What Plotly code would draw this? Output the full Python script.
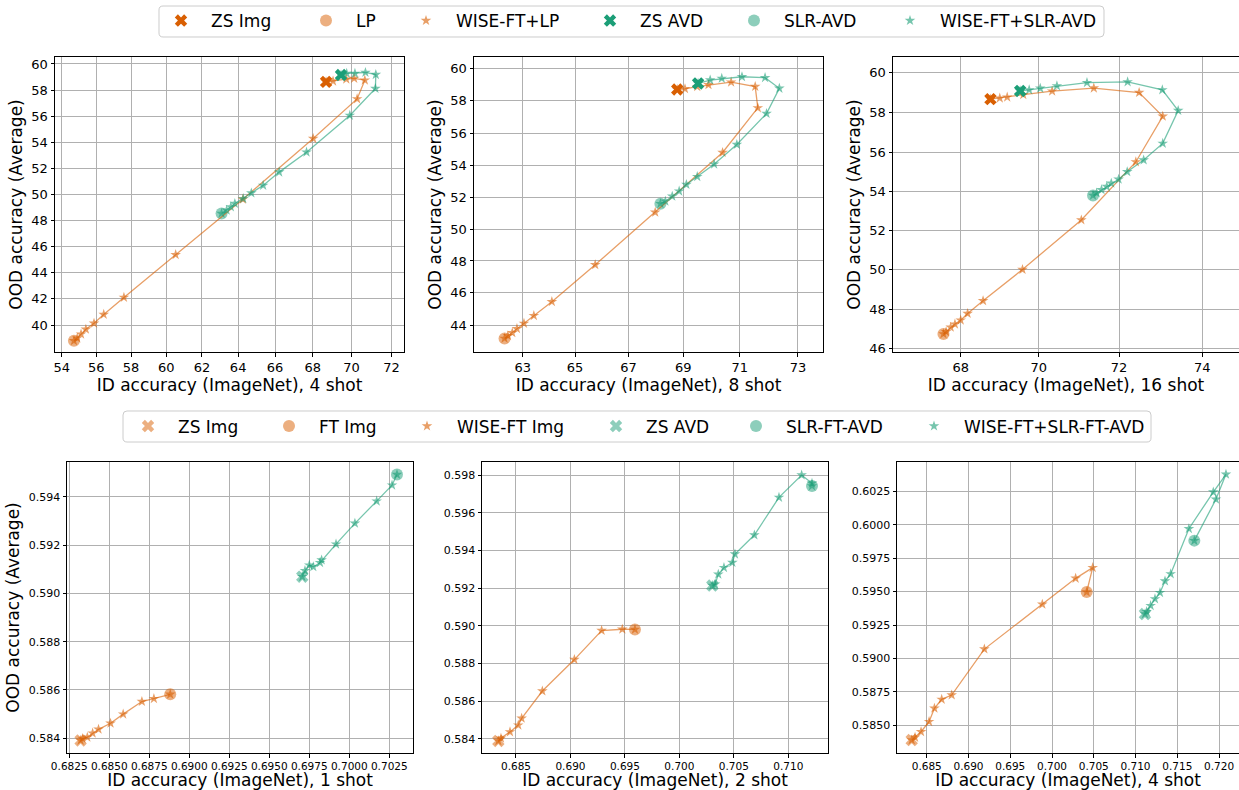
import plotly.graph_objects as go
from statistics import NormalDist

ND = NormalDist()


def probit(v):
    return ND.inv_cdf(v / 100.0)


ORANGE = (217, 95, 2)
GREEN = (27, 158, 119)


def rgba(c, a=1.0):
    return "rgba(%d,%d,%d,%.2f)" % (c[0], c[1], c[2], a)


FONT = "DejaVu Sans"
W, H = 1239, 790

# ---------------- Top row data (accuracy in %) ----------------
top_shots = ["4 shot", "8 shot", "16 shot"]

p1_zs_img_x = [68.69]
p1_zs_img_y = [58.65]
p1_lp_x = [54.71]
p1_lp_y = [38.84]
p1_wise_lp_x = [54.71, 54.90, 55.12, 55.40, 55.87, 56.43, 57.59, 60.53, 64.26, 68.02, 70.28, 70.67, 70.13, 69.73, 69.05, 68.69]
p1_wise_lp_y = [38.84, 39.04, 39.33, 39.70, 40.15, 40.81, 42.10, 45.36, 49.64, 54.33, 57.36, 58.78, 58.91, 58.86, 58.71, 58.65]
p1_zs_avd_x = [69.46]
p1_zs_avd_y = [59.17]
p1_slr_x = [63.09]
p1_slr_y = [48.54]
p1_wise_slr_x = [63.09, 63.37, 63.60, 63.82, 64.28, 64.72, 65.36, 66.22, 67.67, 69.91, 71.20, 71.22, 70.70, 70.17, 69.75, 69.46]
p1_wise_slr_y = [48.54, 48.79, 49.05, 49.31, 49.69, 50.12, 50.71, 51.74, 53.28, 56.10, 58.15, 59.20, 59.36, 59.29, 59.29, 59.17]

p2_zs_img_x = [68.78]
p2_zs_img_y = [58.70]
p2_lp_x = [62.30]
p2_lp_y = [43.17]
p2_wise_lp_x = [62.30, 62.43, 62.60, 62.78, 63.05, 63.43, 64.12, 65.76, 67.98, 70.40, 71.63, 71.54, 70.70, 69.90, 69.50, 69.06, 68.78]
p2_wise_lp_y = [43.17, 43.33, 43.52, 43.77, 44.10, 44.58, 45.45, 47.76, 51.06, 54.80, 57.57, 58.88, 59.15, 58.99, 58.87, 58.74, 58.70]
p2_zs_avd_x = [69.53]
p2_zs_avd_y = [59.07]
p2_slr_x = [68.17]
p2_slr_y = [51.60]
p2_wise_slr_x = [68.17, 68.35, 68.60, 68.85, 69.11, 69.50, 70.10, 70.90, 71.93, 72.37, 71.88, 71.08, 70.37, 69.96, 69.53]
p2_wise_slr_y = [51.60, 51.75, 52.06, 52.38, 52.80, 53.29, 54.07, 55.30, 57.22, 58.77, 59.42, 59.48, 59.38, 59.28, 59.07]

p3_zs_img_x = [68.77]
p3_zs_img_y = [58.66]
p3_lp_x = [67.55]
p3_lp_y = [46.73]
p3_wise_lp_x = [67.55, 67.62, 67.74, 67.85, 68.00, 68.18, 68.58, 69.59, 71.07, 72.41, 73.06, 72.49, 71.38, 70.34, 69.61, 69.20, 69.01, 68.77]
p3_wise_lp_y = [46.73, 46.84, 47.07, 47.23, 47.43, 47.77, 48.42, 50.02, 52.55, 55.50, 57.80, 58.99, 59.21, 59.06, 58.88, 58.76, 58.71, 58.66]
p3_zs_avd_x = [69.53]
p3_zs_avd_y = [59.07]
p3_slr_x = [71.36]
p3_slr_y = [53.80]
p3_wise_slr_x = [71.36, 71.45, 71.57, 71.70, 71.81, 71.99, 72.20, 72.60, 73.06, 73.43, 73.05, 72.21, 71.21, 70.46, 70.04, 69.76, 69.53]
p3_wise_slr_y = [53.80, 53.92, 54.09, 54.25, 54.42, 54.62, 55.00, 55.60, 56.44, 58.09, 59.12, 59.52, 59.48, 59.32, 59.20, 59.12, 59.07]

top_xticks = [[54, 56, 58, 60, 62, 64, 66, 68, 70, 72], [63, 65, 67, 69, 71, 73], [68, 70, 72, 74]]
top_yticks = [[40, 42, 44, 46, 48, 50, 52, 54, 56, 58, 60],
              [44, 46, 48, 50, 52, 54, 56, 58, 60],
              [46, 48, 50, 52, 54, 56, 58, 60]]
top_xrange = [[53.61, 72.61], [61.11, 73.84], [66.22, 74.86]]
top_yrange = [[38.01, 60.52], [42.33, 60.68], [45.81, 60.75]]

# ---------------- Bottom row data (accuracy as fraction) ----------------
bottom_shots = ["1 shot", "2 shot", "4 shot"]

p4_zs_img_x = [0.68321]
p4_zs_img_y = [0.58391]
p4_ft_img_x = [0.68881]
p4_ft_img_y = [0.58582]
p4_wise_img_x = [0.68881, 0.68779, 0.68704, 0.68587, 0.68508, 0.68433, 0.68396, 0.68363, 0.68333, 0.68321]
p4_wise_img_y = [0.58582, 0.58564, 0.58552, 0.58500, 0.58462, 0.58437, 0.58421, 0.58404, 0.58399, 0.58391]
p4_zs_avd_x = [0.69706]
p4_zs_avd_y = [0.59069]
p4_slr_x = [0.70298]
p4_slr_y = [0.59492]
p4_wise_slr_x = [0.70298, 0.70267, 0.70171, 0.70035, 0.69917, 0.69827, 0.69817, 0.69775, 0.69750, 0.69723, 0.69706]
p4_wise_slr_y = [0.59492, 0.59448, 0.59382, 0.59290, 0.59204, 0.59138, 0.59127, 0.59110, 0.59117, 0.59094, 0.59069]

p5_zs_img_x = [0.68338]
p5_zs_img_y = [0.58388]
p5_ft_img_x = [0.69592]
p5_ft_img_y = [0.58980]
p5_wise_img_x = [0.69592, 0.69476, 0.69286, 0.69036, 0.68742, 0.68552, 0.68521, 0.68445, 0.68362, 0.68338]
p5_wise_img_y = [0.58980, 0.58981, 0.58974, 0.58820, 0.58653, 0.58508, 0.58472, 0.58436, 0.58402, 0.58388]
p5_zs_avd_x = [0.70302]
p5_zs_avd_y = [0.59213]
p5_slr_x = [0.71217]
p5_slr_y = [0.59742]
p5_wise_slr_x = [0.71217, 0.71217, 0.71122, 0.70914, 0.70688, 0.70510, 0.70486, 0.70409, 0.70357, 0.70327, 0.70302]
p5_wise_slr_y = [0.59742, 0.59756, 0.59800, 0.59681, 0.59481, 0.59380, 0.59335, 0.59308, 0.59273, 0.59220, 0.59213]

p6_zs_img_x = [0.68320]
p6_zs_img_y = [0.58390]
p6_ft_img_x = [0.70415]
p6_ft_img_y = [0.59497]
p6_wise_img_x = [0.70415, 0.70487, 0.70283, 0.69884, 0.69190, 0.68799, 0.68679, 0.68592, 0.68528, 0.68432, 0.68360, 0.68320]
p6_wise_img_y = [0.59497, 0.59679, 0.59599, 0.59405, 0.59070, 0.58726, 0.58694, 0.58627, 0.58527, 0.58452, 0.58410, 0.58390]
p6_zs_avd_x = [0.71113]
p6_zs_avd_y = [0.59332]
p6_slr_x = [0.71704]
p6_slr_y = [0.59881]
p6_wise_slr_x = [0.71704, 0.71963, 0.72083, 0.71931, 0.71639, 0.71421, 0.71353, 0.71293, 0.71233, 0.71181, 0.71133, 0.71113]
p6_wise_slr_y = [0.59881, 0.60190, 0.60377, 0.60244, 0.59970, 0.59632, 0.59579, 0.59492, 0.59445, 0.59395, 0.59350, 0.59332]

bottom_xrange = [[0.68236, 0.70398], [0.68188, 0.71364], [0.68144, 0.72239]]
bottom_yrange = [[0.58339, 0.59544], [0.58324, 0.59869], [0.58293, 0.60469]]
bottom_xtick = [(0.6825, 0.0025, ".4f"), (0.685, 0.005, ".3f"), (0.685, 0.005, ".3f")]
bottom_ytick = [(0.584, 0.002, ".3f"), (0.584, 0.002, ".3f"), (0.585, 0.0025, ".4f")]

top_legend_names = ["ZS Img", "LP", "WISE-FT+LP", "ZS AVD", "SLR-AVD", "WISE-FT+SLR-AVD"]
bottom_legend_names = ["ZS Img", "FT Img", "WISE-FT Img", "ZS AVD", "SLR-FT-AVD", "WISE-FT+SLR-FT-AVD"]

# ---------------- Layout geometry (pixels) ----------------
top_x_px = [(55, 404), (474, 823), (893, 1239)]
top_y_px = (57, 352)
bot_x_px = [(67, 413), (482, 828), (897, 1239)]
bot_y_px = (462, 753)
top_legend_text_px = [211, 356, 456, 640, 784, 940]
bot_legend_text_px = [178, 319, 457, 646, 786, 964]
top_legend_cy = 21
bot_legend_cy = 426.5

fig = go.Figure()


def add_panel(idx, zsi, ft, wise_i, zsa, slr, wise_a, transform, zs_img_alpha, zs_avd_alpha, legend_base, show):
    ax = "" if idx == 1 else str(idx)
    xa, ya = "x" + ax, "y" + ax
    T = transform

    def tr(vals):
        return [T(v) for v in vals]

    def lg(k):
        n = legend_base + k
        return "legend" if n == 1 else "legend%d" % n

    first = idx in (1, 4)
    fig.add_trace(go.Scatter(x=tr(ft[0]), y=tr(ft[1]), xaxis=xa, yaxis=ya, mode="markers",
                             marker=dict(symbol="circle", size=12, color=rgba(ORANGE, 0.5)),
                             name=show[1], showlegend=first, legend=lg(1)))
    fig.add_trace(go.Scatter(x=tr(slr[0]), y=tr(slr[1]), xaxis=xa, yaxis=ya, mode="markers",
                             marker=dict(symbol="circle", size=12, color=rgba(GREEN, 0.5)),
                             name=show[4], showlegend=first, legend=lg(4)))
    fig.add_trace(go.Scatter(x=tr(wise_i[0]), y=tr(wise_i[1]), xaxis=xa, yaxis=ya, mode="lines",
                             line=dict(color=rgba(ORANGE, 0.6), width=1.3), showlegend=False, hoverinfo="skip"))
    fig.add_trace(go.Scatter(x=tr(wise_i[0]), y=tr(wise_i[1]), xaxis=xa, yaxis=ya, mode="markers",
                             marker=dict(symbol="star", size=8, color=rgba(ORANGE, 0.6)),
                             name=show[2], showlegend=first, legend=lg(2)))
    fig.add_trace(go.Scatter(x=tr(wise_a[0]), y=tr(wise_a[1]), xaxis=xa, yaxis=ya, mode="lines",
                             line=dict(color=rgba(GREEN, 0.6), width=1.3), showlegend=False, hoverinfo="skip"))
    fig.add_trace(go.Scatter(x=tr(wise_a[0]), y=tr(wise_a[1]), xaxis=xa, yaxis=ya, mode="markers",
                             marker=dict(symbol="star", size=8, color=rgba(GREEN, 0.6)),
                             name=show[5], showlegend=first, legend=lg(5)))
    fig.add_trace(go.Scatter(x=tr(zsi[0]), y=tr(zsi[1]), xaxis=xa, yaxis=ya, mode="markers",
                             marker=dict(symbol="x", size=11, color=rgba(ORANGE, zs_img_alpha)),
                             name=show[0], showlegend=first, legend=lg(0)))
    fig.add_trace(go.Scatter(x=tr(zsa[0]), y=tr(zsa[1]), xaxis=xa, yaxis=ya, mode="markers",
                             marker=dict(symbol="x", size=11, color=rgba(GREEN, zs_avd_alpha)),
                             name=show[3], showlegend=first, legend=lg(3)))


ident = lambda v: v

add_panel(1, (p1_zs_img_x, p1_zs_img_y), (p1_lp_x, p1_lp_y), (p1_wise_lp_x, p1_wise_lp_y),
          (p1_zs_avd_x, p1_zs_avd_y), (p1_slr_x, p1_slr_y), (p1_wise_slr_x, p1_wise_slr_y),
          probit, 1.0, 1.0, 1, top_legend_names)
add_panel(2, (p2_zs_img_x, p2_zs_img_y), (p2_lp_x, p2_lp_y), (p2_wise_lp_x, p2_wise_lp_y),
          (p2_zs_avd_x, p2_zs_avd_y), (p2_slr_x, p2_slr_y), (p2_wise_slr_x, p2_wise_slr_y),
          probit, 1.0, 1.0, 1, top_legend_names)
add_panel(3, (p3_zs_img_x, p3_zs_img_y), (p3_lp_x, p3_lp_y), (p3_wise_lp_x, p3_wise_lp_y),
          (p3_zs_avd_x, p3_zs_avd_y), (p3_slr_x, p3_slr_y), (p3_wise_slr_x, p3_wise_slr_y),
          probit, 1.0, 1.0, 1, top_legend_names)
add_panel(4, (p4_zs_img_x, p4_zs_img_y), (p4_ft_img_x, p4_ft_img_y), (p4_wise_img_x, p4_wise_img_y),
          (p4_zs_avd_x, p4_zs_avd_y), (p4_slr_x, p4_slr_y), (p4_wise_slr_x, p4_wise_slr_y),
          ident, 0.5, 0.5, 7, bottom_legend_names)
add_panel(5, (p5_zs_img_x, p5_zs_img_y), (p5_ft_img_x, p5_ft_img_y), (p5_wise_img_x, p5_wise_img_y),
          (p5_zs_avd_x, p5_zs_avd_y), (p5_slr_x, p5_slr_y), (p5_wise_slr_x, p5_wise_slr_y),
          ident, 0.5, 0.5, 7, bottom_legend_names)
add_panel(6, (p6_zs_img_x, p6_zs_img_y), (p6_ft_img_x, p6_ft_img_y), (p6_wise_img_x, p6_wise_img_y),
          (p6_zs_avd_x, p6_zs_avd_y), (p6_slr_x, p6_slr_y), (p6_wise_slr_x, p6_wise_slr_y),
          ident, 0.5, 0.5, 7, bottom_legend_names)

axis_common = dict(showgrid=True, gridcolor="#b0b0b0", gridwidth=0.8, zeroline=False,
                   showline=True, linecolor="black", linewidth=1, mirror=True, automargin=False,
                   ticks="outside", ticklen=3.5, tickwidth=0.8, tickcolor="black", tickangle=0)

layout = dict(width=W, height=H, margin=dict(l=0, r=0, t=0, b=0, autoexpand=False),
              plot_bgcolor="white", paper_bgcolor="white",
              font=dict(family=FONT, color="black"))

for i in range(3):
    n = i + 1
    key = "" if n == 1 else str(n)
    x0, x1 = top_x_px[i]
    layout["xaxis" + key] = dict(axis_common, domain=[x0 / W, min(x1 / W, 1.0)], anchor="y" + key,
                                 range=[probit(top_xrange[i][0]), probit(top_xrange[i][1])],
                                 tickvals=[probit(t) for t in top_xticks[i]],
                                 ticktext=[str(t) for t in top_xticks[i]],
                                 tickfont=dict(size=13, family=FONT, color="black"),
                                 title=dict(text="ID accuracy (ImageNet), " + top_shots[i],
                                            font=dict(size=17, family=FONT, color="black"), standoff=5))
    layout["yaxis" + key] = dict(axis_common, domain=[1 - top_y_px[1] / H, 1 - top_y_px[0] / H], anchor="x" + key,
                                 range=[probit(top_yrange[i][0]), probit(top_yrange[i][1])],
                                 tickvals=[probit(t) for t in top_yticks[i]],
                                 ticktext=[str(t) for t in top_yticks[i]],
                                 tickfont=dict(size=13, family=FONT, color="black"),
                                 title=dict(text="OOD accuracy (Average)",
                                            font=dict(size=17, family=FONT, color="black"), standoff=4))

for i in range(3):
    n = i + 4
    key = str(n)
    x0, x1 = bot_x_px[i]
    xt0, xdt, xfmt = bottom_xtick[i]
    yt0, ydt, yfmt = bottom_ytick[i]
    layout["xaxis" + key] = dict(axis_common, domain=[x0 / W, min(x1 / W, 1.0)], anchor="y" + key,
                                 range=bottom_xrange[i], tick0=xt0, dtick=xdt, tickformat=xfmt,
                                 tickfont=dict(size=10.5, family=FONT, color="black"),
                                 title=dict(text="ID accuracy (ImageNet), " + bottom_shots[i],
                                            font=dict(size=17, family=FONT, color="black"), standoff=3))
    ydict = dict(axis_common, domain=[1 - bot_y_px[1] / H, 1 - bot_y_px[0] / H], anchor="x" + key,
                 range=bottom_yrange[i], tick0=yt0, dtick=ydt, tickformat=yfmt,
                 tickfont=dict(size=11, family=FONT, color="black"))
    if i == 0:
        ydict["title"] = dict(text="OOD accuracy (Average)", font=dict(size=17, family=FONT, color="black"), standoff=4)
    layout["yaxis" + key] = ydict

# legends: one per entry so that spacing follows the reference
ITEMW = 50
for k in range(6):
    n = k + 1
    lname = "legend" if n == 1 else "legend%d" % n
    layout[lname] = dict(x=(top_legend_text_px[k] - ITEMW - 10) / W, y=1 - top_legend_cy / H,
                         xanchor="left", yanchor="middle", orientation="h",
                         bgcolor="rgba(0,0,0,0)", borderwidth=0, itemwidth=ITEMW,
                         font=dict(size=17, family=FONT, color="black"))
    n2 = k + 7
    layout["legend%d" % n2] = dict(x=(bot_legend_text_px[k] - ITEMW - 10) / W, y=1 - bot_legend_cy / H,
                                   xanchor="left", yanchor="middle", orientation="h",
                                   bgcolor="rgba(0,0,0,0)", borderwidth=0, itemwidth=ITEMW,
                                   font=dict(size=17, family=FONT, color="black"))


def rounded_box(x0, y0, x1, y1, r=4):
    X0, X1 = x0 / W, x1 / W
    Y0, Y1 = 1 - y0 / H, 1 - y1 / H
    rx, ry = r / W, r / H
    p = ("M %f,%f L %f,%f Q %f,%f %f,%f L %f,%f Q %f,%f %f,%f L %f,%f Q %f,%f %f,%f L %f,%f Q %f,%f %f,%f Z" % (
        X0 + rx, Y0, X1 - rx, Y0, X1, Y0, X1, Y0 - ry, X1, Y1 + ry, X1, Y1, X1 - rx, Y1,
        X0 + rx, Y1, X0, Y1, X0, Y1 + ry, X0, Y0 - ry, X0, Y0, X0 + rx, Y0))
    return dict(type="path", xref="paper", yref="paper", path=p,
                line=dict(color="#cccccc", width=1), fillcolor="rgba(255,255,255,0.8)", layer="below")


layout["shapes"] = [rounded_box(159, 6, 1104, 37), rounded_box(123, 411, 1151, 442)]

fig.update_layout(**layout)
fig.write_html("out.html")
